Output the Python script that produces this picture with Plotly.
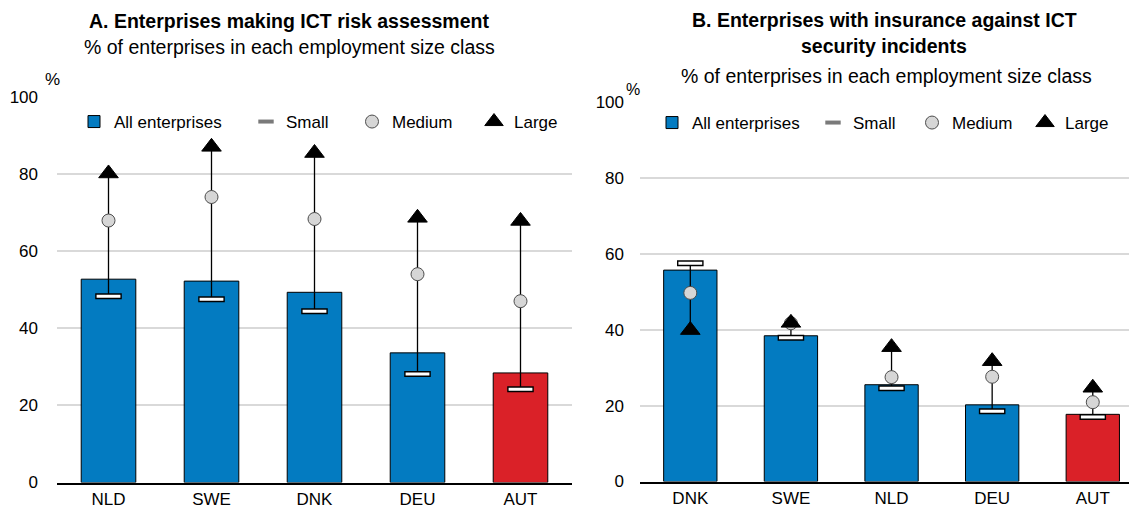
import plotly.graph_objects as go

# ---------------- data ----------------
countries_a = ["NLD", "SWE", "DNK", "DEU", "AUT"]
all_a = [52.7, 52.2, 49.3, 33.6, 28.4]
small_a = [48.3, 47.5, 44.4, 28.1, 24.2]
medium_a = [67.9, 74.0, 68.3, 54.0, 47.0]
large_a = [80.1, 87.0, 85.4, 68.6, 67.8]

countries_b = ["DNK", "SWE", "NLD", "DEU", "AUT"]
all_b = [55.7, 38.4, 25.5, 20.2, 17.7]
small_b = [57.5, 37.9, 24.6, 18.5, 17.0]
medium_b = [49.7, 41.7, 27.5, 27.6, 20.9]
large_b = [39.9, 41.8, 35.4, 31.7, 24.7]

series_names = ["All enterprises", "Small", "Medium", "Large"]
highlight = "AUT"
title_a = "A. Enterprises making ICT risk assessment"
title_b_lines = ["B. Enterprises with insurance against ICT", "security incidents"]
subtitle = "% of enterprises in each employment size class"

BLUE = "#037BC1"
RED = "#DA2128"
GRID = "#D9D9D9"
FONT = "Liberation Sans, Arial, sans-serif"

W, H = 1129, 508

# legend text start positions (px) for each panel's four entries
legend_text_x_a = [113, 285, 391, 513]
legend_text_x_b = [691, 852, 951, 1064]

fig = go.Figure()


def add_panel(countries, all_v, small_v, medium_v, large_v, xa, ya, legends):
    colors = [RED if c == highlight else BLUE for c in countries]
    fig.add_trace(go.Bar(
        x=countries, y=all_v, name=series_names[0], width=0.53,
        marker=dict(color=colors, line=dict(color="black", width=1)),
        xaxis=xa, yaxis=ya, legend=legends[0], showlegend=True))
    # connecting line from min to max of the size classes
    lx, ly = [], []
    for c, s, m, l in zip(countries, small_v, medium_v, large_v):
        lx += [c, c, None]
        ly += [min(s, m, l), max(s, m, l), None]
    fig.add_trace(go.Scatter(
        x=lx, y=ly, mode="lines", line=dict(color="black", width=1.3),
        xaxis=xa, yaxis=ya, showlegend=False, hoverinfo="skip"))
    # small: white dash with black outline (two stacked markers)
    fig.add_trace(go.Scatter(
        x=countries, y=small_v, mode="markers", name=series_names[1],
        marker=dict(symbol="line-ew", size=19, line=dict(color="black", width=6)),
        xaxis=xa, yaxis=ya, showlegend=False))
    fig.add_trace(go.Scatter(
        x=countries, y=small_v, mode="markers", name=series_names[1],
        marker=dict(symbol="line-ew", size=17, line=dict(color="white", width=3)),
        xaxis=xa, yaxis=ya, showlegend=False))
    # legend-only key for "Small"
    fig.add_trace(go.Scatter(
        x=[None], y=[None], mode="markers", name=series_names[1],
        marker=dict(symbol="line-ew", size=11, line=dict(color="#7A7A7A", width=4)),
        xaxis=xa, yaxis=ya, legend=legends[1], showlegend=True))
    fig.add_trace(go.Scatter(
        x=countries, y=medium_v, mode="markers", name=series_names[2],
        marker=dict(symbol="circle", size=13, color="#D6D6D6",
                    line=dict(color="#4D4D4D", width=1)),
        xaxis=xa, yaxis=ya, legend=legends[2], showlegend=True))
    fig.add_trace(go.Scatter(
        x=countries, y=large_v, mode="markers", name=series_names[3],
        marker=dict(symbol="triangle-up", size=17, color="black",
                    line=dict(color="black", width=1)),
        xaxis=xa, yaxis=ya, legend=legends[3], showlegend=True))


legs_a = ["legend", "legend2", "legend3", "legend4"]
legs_b = ["legend5", "legend6", "legend7", "legend8"]
add_panel(countries_a, all_a, small_a, medium_a, large_a, "x", "y", legs_a)
add_panel(countries_b, all_b, small_b, medium_b, large_b, "x2", "y2", legs_b)

xcommon = dict(showline=True, linecolor="black", linewidth=1.5, ticks="",
               showgrid=False, tickfont=dict(size=17, color="black"),
               automargin=False, fixedrange=True)
ycommon = dict(range=[0, 100], dtick=20, showgrid=True, gridcolor=GRID, gridwidth=1.5,
               zeroline=False, showline=False, ticks="", automargin=False,
               tickfont=dict(size=17, color="black"), fixedrange=True)

layout = dict(
    width=W, height=H,
    margin=dict(l=0, r=0, t=0, b=0, pad=0),
    paper_bgcolor="white", plot_bgcolor="white",
    font=dict(family=FONT, color="black"),
    xaxis=dict(domain=[57 / W, 572 / W], range=[-0.5, 4.5], **xcommon),
    yaxis=dict(domain=[(H - 482.5) / H, (H - 96.7) / H], ticklabelstandoff=18, **ycommon),
    xaxis2=dict(domain=[640 / W, 1.0], range=[-0.5, 4.36], anchor="y2", **xcommon),
    yaxis2=dict(domain=[(H - 481.5) / H, (H - 102) / H], anchor="x2",
                ticklabelstandoff=15, **ycommon),
    showlegend=True,
)
for legs, xs, yc in ((legs_a, legend_text_x_a, 122), (legs_b, legend_text_x_b, 123)):
    for lg, tx in zip(legs, xs):
        layout[lg] = dict(orientation="h", x=(tx - 39) / W, xanchor="left",
                          y=1 - yc / H, yanchor="middle", font=dict(size=17),
                          bgcolor="rgba(0,0,0,0)", borderwidth=0, itemwidth=30)
fig.update_layout(**layout)

ann = [
    dict(text="<b>%s</b>" % title_a, x=289 / W, y=1 - 21 / H, font=dict(size=19.5)),
    dict(text=subtitle, x=289 / W, y=1 - 47 / H, font=dict(size=19.5)),
    dict(text="<b>%s</b>" % title_b_lines[0], x=884 / W, y=1 - 20 / H, font=dict(size=19.5)),
    dict(text="<b>%s</b>" % title_b_lines[1], x=884 / W, y=1 - 46 / H, font=dict(size=19.5)),
    dict(text=subtitle, x=886 / W, y=1 - 76 / H, font=dict(size=19.5)),
    dict(text="%", x=52.5 / W, y=1 - 80 / H, font=dict(size=17)),
    dict(text="%", x=633 / W, y=1 - 89 / H, font=dict(size=16)),
]
for a in ann:
    fig.add_annotation(xref="paper", yref="paper", showarrow=False,
                       xanchor="center", yanchor="middle", **a)

fig.write_html("out.html", config={"displayModeBar": False},
               post_script="document.body.style.margin='0';document.body.style.overflow='hidden';")
